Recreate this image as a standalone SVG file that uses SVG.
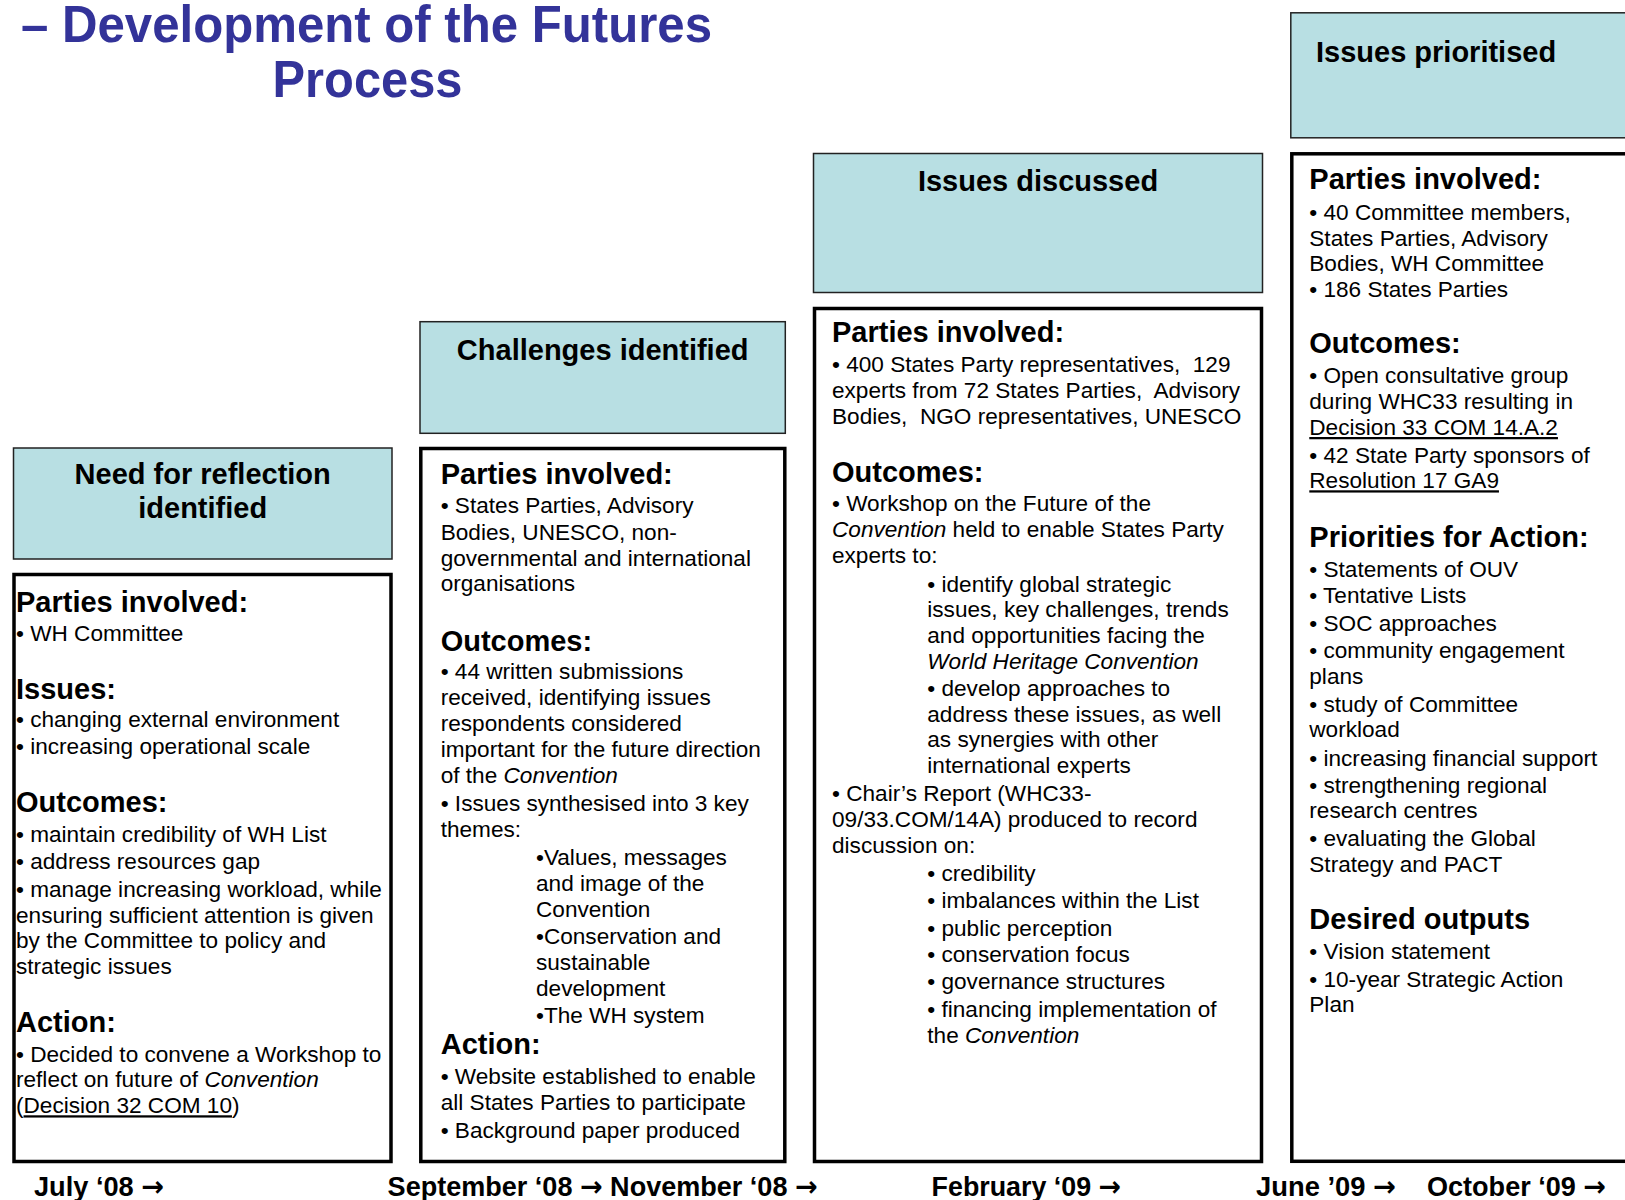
<svg xmlns="http://www.w3.org/2000/svg" width="1625" height="1200" viewBox="0 0 1625 1200">
  <style>
    text { font-family: "Liberation Sans", Arial, sans-serif; fill: #000; }
    .hdr { fill: #B8DFE3; stroke: #222; stroke-width: 1.5; }
    .box { fill: #fff; stroke: #000; stroke-width: 3.5; }
    .title { font-size: 52px; font-weight: bold; fill: #333399; }
    .h { font-size: 29px; font-weight: bold; }
    .b { font-size: 22.6px; }
    .mid { text-anchor: middle; }
    .i { font-style: italic; }
    .u { text-decoration: underline; }
    .date { font-size: 28px; font-weight: bold; }
    .arr { font-family: "DejaVu Sans", sans-serif; font-weight: bold; }
  </style>

  <!-- Heading -->
  <g id="title">
    <text class="title" x="21" y="41.5" textLength="691" lengthAdjust="spacingAndGlyphs">– Development of the Futures</text>
    <text class="title" x="272.5" y="97.4" textLength="190" lengthAdjust="spacingAndGlyphs">Process</text>
  </g>

  <!-- Stage 1: July 2008 -->
  <g id="stage-need">
    <rect class="hdr" x="13.5" y="448" width="378.5" height="111"/>
    <text class="h mid" x="202.7" y="484.3">Need for reflection</text>
    <text class="h mid" x="202.7" y="518.3">identified</text>
    <rect class="box" x="14" y="574.5" width="377" height="587"/>
    <text class="h" x="16" y="611.7">Parties involved:</text>
    <text class="b" x="16" y="640.5">• WH Committee</text>
    <text class="h" x="16" y="698.5">Issues:</text>
    <text class="b" x="16" y="727">• changing external environment</text>
    <text class="b" x="16" y="753.5">• increasing operational scale</text>
    <text class="h" x="16" y="812">Outcomes:</text>
    <text class="b" x="16" y="841.7">• maintain credibility of WH List</text>
    <text class="b" x="16" y="869.3">• address resources gap</text>
    <text class="b" x="16" y="896.7">• manage increasing workload, while</text>
    <text class="b" x="16" y="922.7">ensuring sufficient attention is given</text>
    <text class="b" x="16" y="948.3">by the Committee to policy and</text>
    <text class="b" x="16" y="974">strategic issues</text>
    <text class="h" x="16" y="1031.7">Action:</text>
    <text class="b" x="16" y="1061.7">• Decided to convene a Workshop to</text>
    <text class="b" x="16" y="1087.3">reflect on future of <tspan class="i">Convention</tspan></text>
    <text class="b" x="16" y="1113.3">(<tspan class="u">Decision 32 COM 10</tspan>)</text>
  </g>

  <!-- Stage 2: September - November 2008 -->
  <g id="stage-challenges">
    <rect class="hdr" x="420" y="321.7" width="365.3" height="111.6"/>
    <text class="h mid" x="602.7" y="360">Challenges identified</text>
    <rect class="box" x="420.8" y="448.5" width="364" height="713"/>
    <text class="h" x="440.7" y="484">Parties involved:</text>
    <text class="b" x="440.7" y="513.3">• States Parties, Advisory</text>
    <text class="b" x="440.7" y="540">Bodies, UNESCO, non-</text>
    <text class="b" x="440.7" y="566">governmental and international</text>
    <text class="b" x="440.7" y="591">organisations</text>
    <text class="h" x="440.7" y="650.7">Outcomes:</text>
    <text class="b" x="440.7" y="679.3">• 44 written submissions</text>
    <text class="b" x="440.7" y="705.3">received, identifying issues</text>
    <text class="b" x="440.7" y="731">respondents considered</text>
    <text class="b" x="440.7" y="756.7">important for the future direction</text>
    <text class="b" x="440.7" y="783.3">of the <tspan class="i">Convention</tspan></text>
    <text class="b" x="440.7" y="810.7">• Issues synthesised into 3 key</text>
    <text class="b" x="440.7" y="836.7">themes:</text>
    <text class="b" x="536" y="865">•Values, messages</text>
    <text class="b" x="536" y="890.7">and image of the</text>
    <text class="b" x="536" y="916.7">Convention</text>
    <text class="b" x="536" y="944">•Conservation and</text>
    <text class="b" x="536" y="970">sustainable</text>
    <text class="b" x="536" y="995.7">development</text>
    <text class="b" x="536" y="1022.7">•The WH system</text>
    <text class="h" x="440.7" y="1054.3">Action:</text>
    <text class="b" x="440.7" y="1084.3">• Website established to enable</text>
    <text class="b" x="440.7" y="1110">all States Parties to participate</text>
    <text class="b" x="440.7" y="1137.7">• Background paper produced</text>
  </g>

  <!-- Stage 3: February 2009 -->
  <g id="stage-discussed">
    <rect class="hdr" x="813.5" y="153.5" width="449" height="139"/>
    <text class="h mid" x="1038" y="190.7">Issues discussed</text>
    <rect class="box" x="814.5" y="308.5" width="447" height="853"/>
    <text class="h" x="832" y="342.3">Parties involved:</text>
    <text class="b" x="832" y="371.7">• 400 States Party representatives,&#160; 129</text>
    <text class="b" x="832" y="397.7">experts from 72 States Parties,&#160; Advisory</text>
    <text class="b" x="832" y="423.7">Bodies,&#160; NGO representatives, UNESCO</text>
    <text class="h" x="832" y="481.7">Outcomes:</text>
    <text class="b" x="832" y="510.7">• Workshop on the Future of the</text>
    <text class="b" x="832" y="536.7"><tspan class="i">Convention</tspan> held to enable States Party</text>
    <text class="b" x="832" y="562.7">experts to:</text>
    <text class="b" x="927.3" y="591.7">• identify global strategic</text>
    <text class="b" x="927.3" y="616.7">issues, key challenges, trends</text>
    <text class="b" x="927.3" y="642.7">and opportunities facing the</text>
    <text class="b i" x="927.3" y="669">World Heritage Convention</text>
    <text class="b" x="927.3" y="696">• develop approaches to</text>
    <text class="b" x="927.3" y="721.7">address these issues, as well</text>
    <text class="b" x="927.3" y="747.3">as synergies with other</text>
    <text class="b" x="927.3" y="773.3">international experts</text>
    <text class="b" x="832" y="801">• Chair’s Report (WHC33-</text>
    <text class="b" x="832" y="827.3">09/33.COM/14A) produced to record</text>
    <text class="b" x="832" y="853.3">discussion on:</text>
    <text class="b" x="927.3" y="881">• credibility</text>
    <text class="b" x="927.3" y="908.3">• imbalances within the List</text>
    <text class="b" x="927.3" y="935.7">• public perception</text>
    <text class="b" x="927.3" y="962.3">• conservation focus</text>
    <text class="b" x="927.3" y="989.3">• governance structures</text>
    <text class="b" x="927.3" y="1016.7">• financing implementation of</text>
    <text class="b" x="927.3" y="1042.7">the <tspan class="i">Convention</tspan></text>
  </g>

  <!-- Stage 4: June - October 2009 -->
  <g id="stage-prioritised">
    <rect class="hdr" x="1290.8" y="12.8" width="400" height="125"/>
    <text class="h" x="1316" y="61.7">Issues prioritised</text>
    <rect class="box" x="1291.8" y="153.8" width="400" height="1007.5"/>
    <text class="h" x="1309.3" y="189">Parties involved:</text>
    <text class="b" x="1309.3" y="220">• 40 Committee members,</text>
    <text class="b" x="1309.3" y="246">States Parties, Advisory</text>
    <text class="b" x="1309.3" y="270.7">Bodies, WH Committee</text>
    <text class="b" x="1309.3" y="296.7">• 186 States Parties</text>
    <text class="h" x="1309.3" y="353.3">Outcomes:</text>
    <text class="b" x="1309.3" y="383.3">• Open consultative group</text>
    <text class="b" x="1309.3" y="409.3">during WHC33 resulting in</text>
    <text class="b u" x="1309.3" y="435">Decision 33 COM 14.A.2</text>
    <text class="b" x="1309.3" y="463.3">• 42 State Party sponsors of</text>
    <text class="b u" x="1309.3" y="488.3">Resolution 17 GA9</text>
    <text class="h" x="1309.3" y="546.7">Priorities for Action:</text>
    <text class="b" x="1309.3" y="576.7">• Statements of OUV</text>
    <text class="b" x="1309.3" y="603.3">• Tentative Lists</text>
    <text class="b" x="1309.3" y="631">• SOC approaches</text>
    <text class="b" x="1309.3" y="658.3">• community engagement</text>
    <text class="b" x="1309.3" y="684">plans</text>
    <text class="b" x="1309.3" y="711.7">• study of Committee</text>
    <text class="b" x="1309.3" y="737.3">workload</text>
    <text class="b" x="1309.3" y="765.7">• increasing financial support</text>
    <text class="b" x="1309.3" y="792.7">• strengthening regional</text>
    <text class="b" x="1309.3" y="818.3">research centres</text>
    <text class="b" x="1309.3" y="846">• evaluating the Global</text>
    <text class="b" x="1309.3" y="871.7">Strategy and PACT</text>
    <text class="h" x="1309.3" y="929.3">Desired outputs</text>
    <text class="b" x="1309.3" y="959.3">• Vision statement</text>
    <text class="b" x="1309.3" y="986.7">• 10-year Strategic Action</text>
    <text class="b" x="1309.3" y="1011.7">Plan</text>
  </g>

  <!-- Timeline labels along the bottom -->
  <g id="timeline">
    <text class="date" x="34" y="1196" textLength="130" lengthAdjust="spacingAndGlyphs">July ‘08 <tspan class="arr">→</tspan></text>
    <text class="date" x="387.6" y="1196" textLength="430" lengthAdjust="spacingAndGlyphs">September ‘08 <tspan class="arr">→</tspan> November ‘08 <tspan class="arr">→</tspan></text>
    <text class="date" x="931.6" y="1196" textLength="189.5" lengthAdjust="spacingAndGlyphs">February ‘09 <tspan class="arr">→</tspan></text>
    <text class="date" x="1256" y="1196" textLength="140" lengthAdjust="spacingAndGlyphs">June ’09 <tspan class="arr">→</tspan></text>
    <text class="date" x="1427" y="1196" textLength="179" lengthAdjust="spacingAndGlyphs">October ‘09 <tspan class="arr">→</tspan></text>
  </g>
</svg>
